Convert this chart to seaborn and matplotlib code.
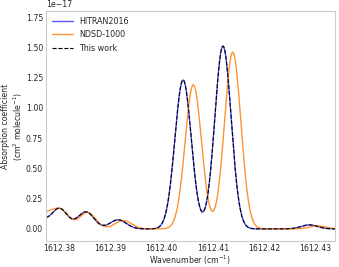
import numpy as np
import pandas as pd
import matplotlib
matplotlib.use("Agg")
import matplotlib.pyplot as plt
import seaborn as sns

# ---- Line lists (centres in cm^-1, strengths in 1e-17 units) ----
hitran_centres = [1612.3755, 1612.3800, 1612.3852, 1612.3915, 1612.4042, 1612.4120, 1612.4289]
hitran_peaks = [0.100, 0.168, 0.140, 0.075, 1.23, 1.51, 0.033]

ndsd_centres = [1612.3772, 1612.3803, 1612.3855, 1612.3925, 1612.4062, 1612.4139, 1612.4305]
ndsd_peaks = [0.110, 0.150, 0.135, 0.070, 1.19, 1.46, 0.025]

thiswork_centres = [1612.3755, 1612.3800, 1612.3852, 1612.3915, 1612.4042, 1612.4120, 1612.4289]
thiswork_peaks = [0.100, 0.168, 0.140, 0.075, 1.23, 1.51, 0.033]

doppler_sigma = 0.0016  # Gaussian width (cm^-1)
scale = 1e-17

x_lim = (1612.3774, 1612.4339)
y_lim = (-0.1e-17, 1.8e-17)
x_ticks = [1612.38, 1612.39, 1612.40, 1612.41, 1612.42, 1612.43]
y_ticks = [0.0, 0.25e-17, 0.5e-17, 0.75e-17, 1.0e-17, 1.25e-17, 1.5e-17, 1.75e-17]


def spectrum(nu, centres, peaks):
    out = np.zeros_like(nu)
    for c, a in zip(centres, peaks):
        out += a * np.exp(-0.5 * ((nu - c) / doppler_sigma) ** 2)
    return out * scale


nu = np.linspace(x_lim[0], x_lim[1], 1200)
df = pd.DataFrame({
    "nu": nu,
    "HITRAN2016": spectrum(nu, hitran_centres, hitran_peaks),
    "NDSD-1000": spectrum(nu, ndsd_centres, ndsd_peaks),
    "This work": spectrum(nu, thiswork_centres, thiswork_peaks),
})

sns.set_theme(style="white", rc={
    "axes.edgecolor": "0.8",
    "xtick.color": "0.15",
    "ytick.color": "0.15",
})
plt.rcParams["font.family"] = ["DejaVu Sans"]

fig = plt.figure(figsize=(3.39, 2.67), dpi=100)
ax = fig.add_axes([0.1357, 0.0974, 0.8525, 0.8614])

sns.lineplot(data=df, x="nu", y="HITRAN2016", ax=ax, color="blue", alpha=0.65,
             lw=1.0, label="HITRAN2016")
sns.lineplot(data=df, x="nu", y="NDSD-1000", ax=ax, color="#ff7f0e", alpha=0.85,
             lw=1.0, label="NDSD-1000")
sns.lineplot(data=df, x="nu", y="This work", ax=ax, color="black",
             lw=0.8, linestyle="--", label="This work")

ax.set_xlim(*x_lim)
ax.set_ylim(*y_lim)
ax.set_xticks(x_ticks)
ax.set_yticks(y_ticks)
ax.ticklabel_format(axis="x", useOffset=False, style="plain")
ax.set_xticklabels([f"{t:.2f}" for t in x_ticks])
ax.tick_params(labelsize=5.6, length=0, pad=2.2)
ax.yaxis.get_offset_text().set_fontsize(5.6)

ax.set_xlabel("Wavenumber (cm$^{-1}$)", fontsize=5.6, labelpad=0.5)
ax.set_ylabel("Absorption coefficient\n(cm$^2$ molecule$^{-1}$)", fontsize=5.6,
              labelpad=0.5, linespacing=1.15)

for sp in ax.spines.values():
    sp.set_linewidth(0.8)

ax.legend(loc="upper left", frameon=False, fontsize=5.8, handlelength=2.7,
          borderaxespad=0.3, labelspacing=0.55, handletextpad=0.7)

fig.savefig("out.png", dpi=100)
